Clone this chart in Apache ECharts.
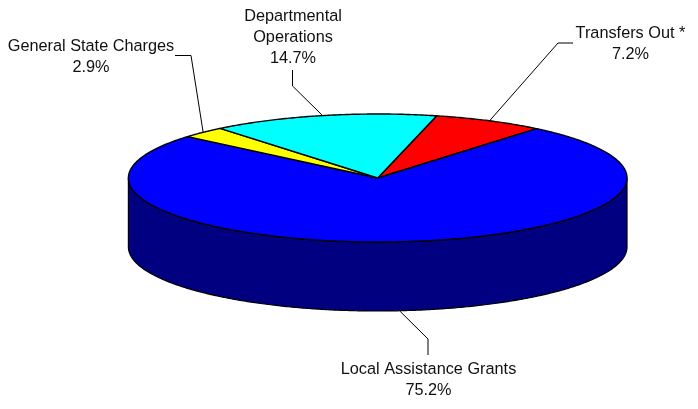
<!DOCTYPE html>
<html>
<head>
<meta charset="utf-8">
<style>html,body{margin:0;padding:0;background:#fff}#c{width:698px;height:409px}</style>
<script src="https://cdn.jsdelivr.net/npm/echarts@6/dist/echarts.min.js"></script>
</head>
<body>
<div id="c"></div>
<script>
var categories = ['Transfers Out *', 'Local Assistance Grants', 'General State Charges', 'Departmental\nOperations'];
var shares = [7.2, 75.2, 2.9, 14.7];
var topColors = ['#ff0000', '#0000ff', '#ffff00', '#00ffff'];
var sideColors = ['#800000', '#000080', '#808000', '#008080'];
var firstSliceAngle = 13.7;

// Layout only: pie geometry and label placement
var pie = { cx: 377.7, cy: 178, rx: 249.3, ry: 64, depth: 69 };
var labelBoxes = [
  { x: 630.5, y: 44.5, elbow: [558, 43], end: [573, 43] },
  { x: 428.5, y: 380.5, elbow: [428, 339], end: [428, 355] },
  { x: 91, y: 57.5, elbow: [191, 55.5], end: [175, 55.5] },
  { x: 293, y: 38, elbow: [292.5, 86], end: [292.5, 70] }
];

function rimPoint(deg, drop) {
  var a = deg * Math.PI / 180;
  return [pie.cx + pie.rx * Math.sin(a), pie.cy - pie.ry * Math.cos(a) + (drop || 0)];
}
function arcPoints(from, to, drop) {
  var pts = [], n = Math.max(2, Math.ceil(Math.abs(to - from) * 2));
  for (var i = 0; i <= n; i++) pts.push(rimPoint(from + (to - from) * i / n, drop));
  return pts;
}

var total = shares.reduce(function (s, v) { return s + v; }, 0);

function renderSlice(params, api) {
  var i = params.dataIndex, before = 0;
  for (var k = 0; k < i; k++) before += shares[k];
  var value = api.value(0);
  var start = firstSliceAngle + before / total * 360;
  var end = start + value / total * 360;
  var mid = (start + end) / 2;
  var children = [];

  var sideFrom = Math.max(start, 90), sideTo = Math.min(end, 270);
  if (sideTo > sideFrom) {
    children.push({
      type: 'polygon',
      z2: 1,
      shape: { points: arcPoints(sideFrom, sideTo, 0).concat(arcPoints(sideTo, sideFrom, pie.depth)) },
      style: { fill: sideColors[i], stroke: '#000', lineWidth: 1.2 }
    });
  }

  children.push({
    type: 'polygon',
    z2: 2,
    shape: { points: [[pie.cx, pie.cy]].concat(arcPoints(start, end, 0)) },
    style: { fill: topColors[i], stroke: '#000', lineWidth: 1.4, lineJoin: 'round' }
  });

  var box = labelBoxes[i];
  var front = mid > 90 && mid < 270;
  children.push({
    type: 'polyline',
    z2: 3,
    shape: { points: [rimPoint(mid, front ? pie.depth : 0), box.elbow, box.end] },
    style: { fill: 'none', stroke: '#000', lineWidth: 1 }
  });
  children.push({
    type: 'text',
    z2: 4,
    style: {
      x: box.x,
      y: box.y,
      text: categories[i] + '\n' + value.toFixed(1) + '%',
      fill: '#111',
      font: '16.3px "Liberation Sans", Arial, sans-serif',
      lineHeight: 21,
      align: 'center',
      verticalAlign: 'middle'
    }
  });
  return { type: 'group', children: children };
}

var chart = echarts.init(document.getElementById('c'), null, { renderer: 'canvas', width: 698, height: 409 });
chart.setOption({
  animation: false,
  backgroundColor: '#ffffff',
  series: [{
    type: 'custom',
    coordinateSystem: 'none',
    renderItem: renderSlice,
    silent: true,
    data: shares.map(function (v, i) { return { name: categories[i], value: [v] }; })
  }]
});
</script>
</body>
</html>
